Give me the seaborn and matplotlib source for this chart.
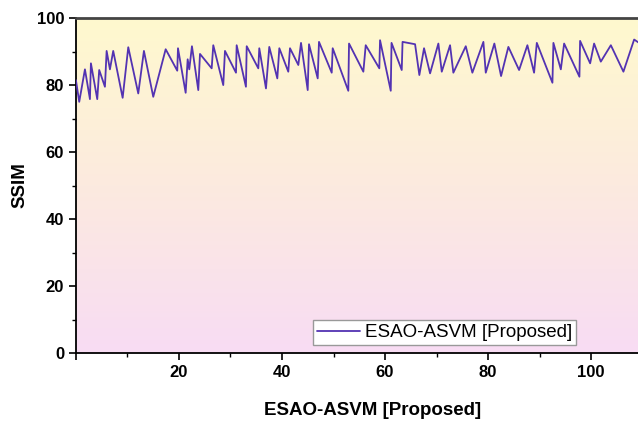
import numpy as np
import pandas as pd
import matplotlib
matplotlib.use("Agg")
import matplotlib.pyplot as plt
from matplotlib.colors import LinearSegmentedColormap
import seaborn as sns

# ---- data ----
x_vals = [0.0, 0.64, 1.75, 2.72, 2.91, 4.14, 4.52, 5.63, 5.96, 6.60, 7.24, 9.07, 10.16, 12.10,
          13.20, 15.01, 17.42, 19.67, 19.81, 21.30, 21.69, 22.00, 22.52, 23.75, 24.08, 26.35,
          26.66, 28.60, 28.93, 31.07, 31.20, 33.00, 33.15, 35.40, 35.59, 36.89, 37.53, 39.09,
          39.48, 41.22, 41.55, 43.17, 43.69, 44.99, 45.24, 46.93, 47.18, 49.65, 49.84, 52.87,
          53.01, 55.79, 56.25, 58.89, 59.03, 61.11, 61.26, 63.24, 63.40, 65.83, 66.66, 67.57,
          68.74, 70.35, 71.01, 72.62, 73.26, 75.67, 76.95, 79.09, 79.55, 81.22, 82.52, 83.94,
          86.02, 87.63, 88.93, 89.46, 92.49, 92.68, 94.12, 94.76, 97.73, 97.86, 99.81, 100.58,
          101.88, 103.83, 106.27, 108.35, 109.5]
ssim_vals = [81.5, 75.0, 84.7, 75.8, 86.5, 75.8, 84.5, 79.5, 90.2, 84.7, 90.2, 76.2, 91.3, 77.5,
             90.2, 76.5, 90.7, 84.3, 91.0, 77.7, 87.7, 84.7, 91.6, 78.5, 89.3, 85.0,
             91.9, 80.0, 90.2, 83.7, 91.9, 79.5, 91.6, 85.0, 91.0, 79.0, 91.4, 82.0,
             91.0, 84.0, 91.0, 86.0, 92.6, 78.5, 92.2, 82.0, 92.9, 83.7, 91.0, 78.3,
             92.4, 84.0, 91.9, 85.0, 93.4, 78.3, 92.6, 84.5, 92.9, 92.2, 83.0, 91.0,
             83.5, 92.4, 84.0, 91.9, 83.7, 91.6, 83.7, 92.9, 83.7, 92.4, 82.7, 91.4,
             84.5, 91.9, 83.7, 92.6, 80.7, 92.6, 84.7, 92.4, 82.5, 93.2, 86.5, 92.4,
             87.0, 91.9, 84.0, 93.6, 92.4]
series_name = "ESAO-ASVM [Proposed]"
x_label = "ESAO-ASVM [Proposed]"
y_label = "SSIM"
x_ticks = [0, 20, 40, 60, 80, 100]
x_tick_labels = ["", "20", "40", "60", "80", "100"]
y_ticks = [0, 20, 40, 60, 80, 100]

df = pd.DataFrame({"x": x_vals, "SSIM": ssim_vals, "series": series_name})

sns.set_theme(style="ticks")
plt.rcParams["font.family"] = ["Liberation Sans", "DejaVu Sans"]
plt.rcParams["text.color"] = "black"
plt.rcParams["axes.labelcolor"] = "black"
plt.rcParams["xtick.color"] = "black"
plt.rcParams["ytick.color"] = "black"

fig = plt.figure(figsize=(6.38, 4.21), dpi=100)
ax = fig.add_axes([0.119, 0.1615, 0.881, 0.7955])

# background gradient (pink bottom -> yellow top)
cmap = LinearSegmentedColormap.from_list("bg", ["#F8DCF4", "#FCEADF", "#FFF9CE"])
grad = np.linspace(0, 1, 256).reshape(-1, 1)
ax.imshow(grad, extent=[0, 1, 0, 1], transform=ax.transAxes, origin="lower",
          aspect="auto", cmap=cmap, zorder=0)

sns.lineplot(data=df, x="x", y="SSIM", hue="series", palette=["#5333B2"],
             sort=False, estimator=None, linewidth=1.3, ax=ax, zorder=3)

ax.set_xlim(0, 109.1)
ax.set_ylim(0, 100)
ax.set_xticks(x_ticks)
ax.set_xticklabels(x_tick_labels)
ax.set_yticks(y_ticks)
ax.set_xticks([10, 30, 50, 70, 90], minor=True)
ax.set_yticks([10, 30, 50, 70, 90], minor=True)
ax.tick_params(axis="both", which="major", direction="out", length=5, width=1.2,
               labelsize=12, colors="black")
ax.tick_params(axis="both", which="minor", direction="out", length=3, width=1.0,
               colors="black")
for lab in ax.get_xticklabels() + ax.get_yticklabels():
    lab.set_fontweight("bold")

ax.set_xlabel(x_label, fontsize=13.5, fontweight="bold", color="black")
ax.set_ylabel(y_label, fontsize=13.5, fontweight="bold", color="black")
ax.xaxis.set_label_coords(0.527, -0.145)
ax.yaxis.set_label_coords(-0.085, 0.5)

for s in ["left", "bottom"]:
    ax.spines[s].set_color("black")
    ax.spines[s].set_linewidth(1.3)
ax.spines["top"].set_color("#444444")
ax.spines["top"].set_linewidth(2.0)
ax.spines["right"].set_visible(False)

leg = ax.legend(loc="lower left", bbox_to_anchor=(0.4217, 0.024), fontsize=13.5,
                frameon=True, fancybox=False, edgecolor="#999999", framealpha=1,
                handlelength=2.3, borderpad=0.2, handletextpad=0.3, borderaxespad=0)
leg.get_frame().set_linewidth(1.0)
for line in leg.get_lines():
    line.set_linewidth(1.3)
for t in leg.get_texts():
    t.set_color("black")

fig.savefig("out.png", dpi=100)
